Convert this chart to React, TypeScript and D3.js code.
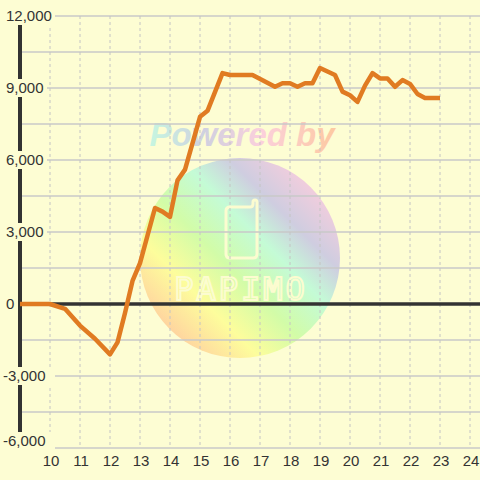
import React from "react";
import * as d3 from "d3";

const times = [9, 10, 10.5, 11, 11.5, 12, 12.25, 12.5, 12.75, 13, 13.5, 13.75, 14, 14.25, 14.5, 15, 15.25, 15.75, 16, 16.75, 17.5, 17.75, 18, 18.25, 18.5, 18.75, 19, 19.5, 19.75, 20, 20.25, 20.5, 20.75, 21, 21.25, 21.5, 21.75, 22, 22.25, 22.5, 23];
const values = [0, 0, -200, -900, -1450, -2100, -1600, -375, 960, 1700, 4000, 3850, 3630, 5150, 5600, 7800, 8050, 9620, 9540, 9540, 9050, 9200, 9200, 9050, 9200, 9200, 9830, 9540, 8850, 8700, 8420, 9100, 9620, 9400, 9400, 9050, 9330, 9170, 8750, 8580, 8580];
const xTicks = [10, 11, 12, 13, 14, 15, 16, 17, 18, 19, 20, 21, 22, 23, 24];
const yLabelTicks = [12000, 9000, 6000, 3000, 0, -3000, -6000];
const yGridTicks = [12000, 10500, 9000, 7500, 6000, 4500, 3000, 1500, 0, -1500, -3000, -4500, -6000];

const W = 480, H = 480;
const BG = "#fdfdd3";
const FONT = "'Liberation Sans', Arial, sans-serif";

export default function App() {
  const x = d3.scaleLinear().domain([9, 24]).range([20, 470]);
  const y = d3.scaleLinear().domain([-6000, 12000]).range([448, 16]);
  const line = d3.line<number>().x((_, i) => x(times[i])).y((v) => y(v));
  const fmt = d3.format(",");

  return (
    <svg width={W} height={H} style={{ position: "absolute", left: 0, top: 0 }}>
      <defs>
        <linearGradient id="circGrad" x1="0" y1="1" x2="1" y2="0">
          <stop offset="0.1" stopColor="#ffc9a0" />
          <stop offset="0.3" stopColor="#fdfd9c" />
          <stop offset="0.45" stopColor="#d2fca8" />
          <stop offset="0.6" stopColor="#c4fbd6" />
          <stop offset="0.72" stopColor="#cfcde0" />
          <stop offset="0.9" stopColor="#fccddc" />
        </linearGradient>
        <linearGradient id="txtGrad" x1="0" y1="0" x2="1" y2="0">
          <stop offset="0" stopColor="#c6f6e0" />
          <stop offset="0.3" stopColor="#d0d0e0" />
          <stop offset="0.6" stopColor="#fbd0dc" />
          <stop offset="1" stopColor="#fdc9a0" />
        </linearGradient>
      </defs>
      <rect x={0} y={0} width={W} height={H} fill={BG} />
      {/* watermark */}
      <circle cx={240} cy={258} r={100} fill="url(#circGrad)" />
      <text x={242} y={146} textAnchor="middle" fontFamily="'Liberation Sans', Arial, sans-serif" fontWeight="bold" fontStyle="italic" fontSize={33} fill="url(#txtGrad)">Powered by</text>
      <path d="M230,207 h20 q3,0 3,-3 v-2 q0,-2 2,-2 q2,0 2,2 v52 q0,4 -4,4 h-23 q-4,0 -4,-4 v-43 q0,-4 4,-4 z" fill="none" stroke="#fcfcd0" strokeWidth={3} />
      <text x={241} y={300} textAnchor="middle" fontFamily="'DejaVu Sans Mono', monospace" fontSize={32} letterSpacing={3} fill="none" stroke="#fcfcd0" strokeWidth={2}>PAPIMO</text>
      {/* horizontal grid */}
      {yGridTicks.map((t) => (
        <line key={"h" + t} x1={20} x2={W} y1={y(t)} y2={y(t)} stroke="#c8c8c8" strokeWidth={1.3} />
      ))}
      {/* vertical grid */}
      {xTicks.map((t) => (
        <line key={"v" + t} x1={x(t)} x2={x(t)} y1={16} y2={448} stroke="#c4c4c4" strokeWidth={1} strokeDasharray="3,3" />
      ))}
      {/* zero line and axis */}
      <line x1={20} x2={W} y1={y(0)} y2={y(0)} stroke="#333" strokeWidth={3.5} />
      <line x1={20} x2={20} y1={16} y2={448} stroke="#333" strokeWidth={4} />
      {/* data */}
      <path d={line(values) || ""} fill="none" stroke="#e07b22" strokeWidth={4.5} strokeLinejoin="round" strokeLinecap="butt" />
      {/* y labels */}
      {yLabelTicks.map((t) => {
        const s = fmt(t).replace("−", "-");
        const w = s.length * 8 + 2;
        const cy = t === -6000 ? y(t) - 7 : y(t);
        return (
          <g key={"yl" + t}>
            <rect x={3} y={cy - 9} width={t === 0 ? 14 : w + 2} height={18} fill={BG} />
            <text x={t < 0 ? 3 : 6} y={cy} dy="0.35em" fontFamily={FONT} fontSize={15} fill="#333">{s}</text>
          </g>
        );
      })}
      {/* x labels */}
      {xTicks.map((t) => (
        <text key={"xl" + t} x={x(t) + 1} y={461} dy="0.35em" textAnchor="middle" fontFamily={FONT} fontSize={15} fill="#333">{t}</text>
      ))}
    </svg>
  );
}
